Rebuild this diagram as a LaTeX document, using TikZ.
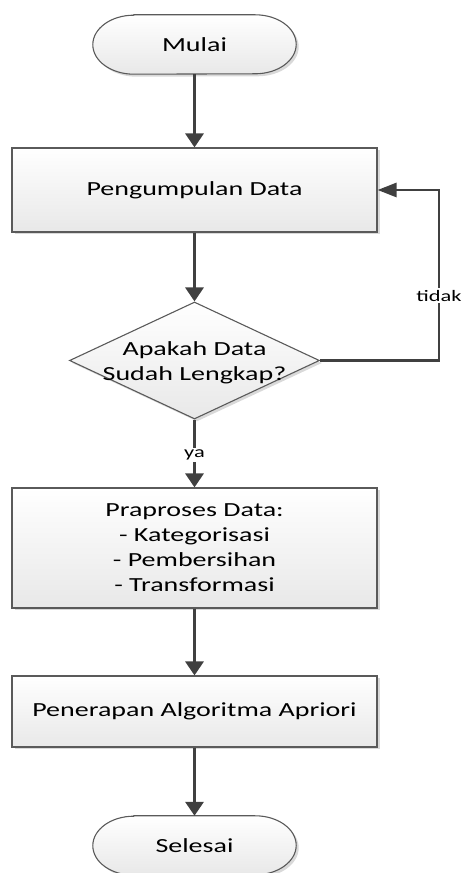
\documentclass[tikz,border=0pt]{standalone}
\usepackage{fontspec}
\setmainfont[FakeStretch=1.4]{Carlito}
\usetikzlibrary{arrows.meta,shapes.geometric,shadows}
\definecolor{boxline}{HTML}{5A5A5A}
\definecolor{fillbot}{HTML}{E8E8E8}
\definecolor{conn}{HTML}{404040}
\pgfdeclarelayer{bg}
\pgfsetlayers{bg,main}
\begin{document}
\begin{tikzpicture}[x=1pt,y=1pt,
  mainfont/.style={font=\fontsize{20}{25}\selectfont},
  procbox/.style={mainfont, draw=boxline, line width=1.1pt, top color=white, bottom color=fillbot,
    minimum width=365pt, inner sep=0pt, align=center,
    drop shadow={shadow xshift=2.5pt, shadow yshift=-2.5pt, opacity=0.3}},
  decbox/.style={shape=diamond, draw=boxline, line width=1.1pt, top color=white, bottom color=fillbot,
    minimum width=250pt, minimum height=117pt, inner sep=0pt,
    drop shadow={shadow xshift=2.5pt, shadow yshift=-2.5pt, opacity=0.3}},
  termtext/.style={mainfont, minimum width=203pt, minimum height=59pt, inner sep=0pt},
  termshape/.style={draw=boxline, line width=1.1pt, top color=white, bottom color=fillbot,
    drop shadow={shadow xshift=2.5pt, shadow yshift=-2.5pt, opacity=0.3}},
  connv/.style={draw=conn, line width=3.2pt, -{Triangle[width=18pt,length=14pt]}},
  connh/.style={draw=conn, line width=2.8pt, -{Triangle[width=14pt,length=19pt]}},
  lbl/.style={font=\fontsize{16}{19}\selectfont, fill=white, inner sep=2pt}
]
\useasboundingbox (0,0) rectangle (461,873);

% nodes
\node[termtext] (mulai) at (194.5,828.5) {Mulai};
\node[procbox, minimum height=84pt] (b1) at (194.5,683) {Pengumpulan Data};
\node[decbox] (dec) at (194.5,512.5) {};
\node[mainfont, align=center, inner sep=0pt] (dectext) at (194.5,510.5) {Apakah Data\\Sudah Lengkap?};
\node[procbox, minimum height=120pt] (b2) at (194.5,325) {Praproses Data:\\- Kategorisasi\\- Pembersihan\\- Transformasi};
\node[procbox, minimum height=71pt] (b3) at (194.5,161.5) {Penerapan Algoritma Apriori};
\node[termtext] (selesai) at (194.5,27.5) {Selesai};

% terminal outlines
\begin{pgfonlayer}{bg}
\path[termshape] ([xshift=41pt]mulai.north west) -- ([xshift=-41pt]mulai.north east)
  arc[start angle=90, end angle=-90, x radius=41pt, y radius=29.5pt]
  -- ([xshift=41pt]mulai.south west)
  arc[start angle=270, end angle=90, x radius=41pt, y radius=29.5pt] -- cycle;
\path[termshape] ([xshift=41pt]selesai.north west) -- ([xshift=-41pt]selesai.north east)
  arc[start angle=90, end angle=-90, x radius=41pt, y radius=29.5pt]
  -- ([xshift=41pt]selesai.south west)
  arc[start angle=270, end angle=90, x radius=41pt, y radius=29.5pt] -- cycle;
\end{pgfonlayer}

% connectors
\draw[connv] (mulai.south) -- (b1.north);
\draw[connv] (b1.south) -- (dec.north);
\draw[connv] (dec.south) -- node[lbl, pos=0.52]{ya} (b2.north);
\draw[connv] (b2.south) -- (b3.north);
\draw[connv] (b3.south) -- (selesai.north);
\draw[connh] (dec.east) -- ++(119pt,0) coordinate (c1) |- node[lbl, pos=0.19]{tidak} (b1.east);
\end{tikzpicture}
\end{document}
